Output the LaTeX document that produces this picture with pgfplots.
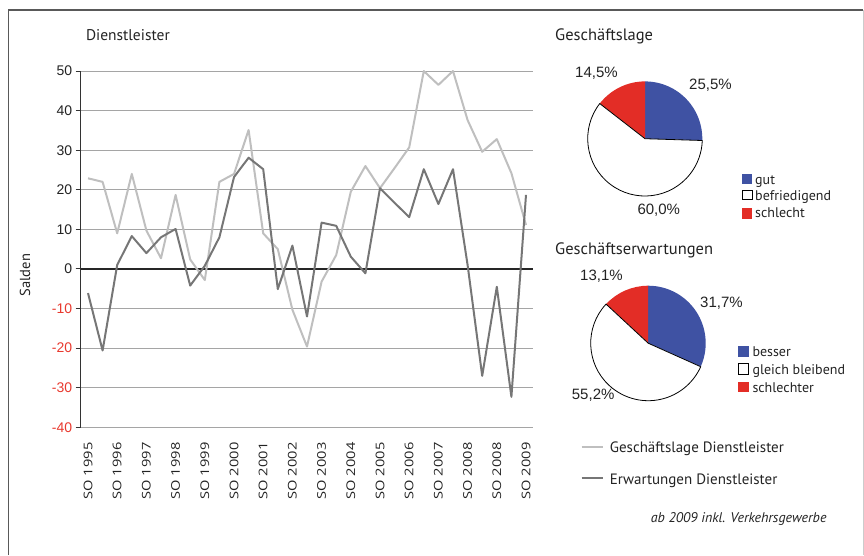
\documentclass[border=0pt]{standalone}
\usepackage{graphicx}
\usepackage{pgfplots}
\pgfplotsset{compat=1.18}
\usepackage{fontspec}
\setmainfont{PT Sans}
\newfontfamily\numfont{Liberation Sans}
\newfontfamily\xfont{Open Sans}
\definecolor{lightline}{RGB}{191,191,191}
\definecolor{darkline}{RGB}{118,118,118}
\definecolor{gridgray}{RGB}{165,165,165}
\definecolor{negred}{RGB}{232,57,46}
\definecolor{pieblue}{RGB}{63,82,163}
\definecolor{piered}{RGB}{227,45,38}
\definecolor{textgray}{RGB}{35,35,35}
\newcommand\xl[1]{\scalebox{1.22}[1]{#1}}
\newcommand\nr[1]{\textcolor{negred}{#1}}
% pie data (percent)
\def\gut{25.5}\def\befr{60.0}\def\schl{14.5}
\def\bes{31.7}\def\gleich{55.2}\def\schlter{13.1}
\begin{document}
\begin{tikzpicture}[every node/.style={text=textgray}]
\path[use as bounding box] (0pt,0pt) rectangle (864pt,-555pt);
\draw[black!65, line width=1.2pt] (8.3pt,-555pt) -- (8.3pt,-10pt) -- (863pt,-10pt);
\draw[black!20, line width=1pt] (863pt,-10pt) -- (863pt,-555pt);
% main line chart
\begin{axis}[
  at={(80.7pt,-427.3pt)}, anchor=south west,
  scale only axis, width=452.6pt, height=356.3pt,
  xmin=-0.5, xmax=30.5, ymin=-40, ymax=50,
  axis lines*=left, axis line style={-},
  x axis line style={draw=none},
  y axis line style={black!80, line width=1pt},
  xtick={0,2,...,30},
  xticklabels={\xl{SO 1995},\xl{SO 1996},\xl{SO 1997},\xl{SO 1998},\xl{SO 1999},\xl{SO 2000},\xl{SO 2001},\xl{SO 2002},\xl{SO 2003},\xl{SO 2004},\xl{SO 2005},\xl{SO 2006},\xl{SO 2007},\xl{SO 2008},\xl{SO 2008},\xl{SO 2009}},
  xtick style={draw=none},
  xticklabel style={font=\xfont\fontsize{12}{14}\selectfont, rotate=90, anchor=east, inner ysep=0pt, inner xsep=0pt},
  xticklabel shift=10pt,
  ytick={-40,-30,...,50},
  yticklabels={\nr{-40},\nr{-30},\nr{-20},\nr{-10},0,10,20,30,40,50},
  yticklabel style={font=\numfont\fontsize{14}{16}\selectfont},
  ytick style={black!80, line width=1pt},
  tick align=outside, major tick length=5pt,
  ymajorgrids, grid style={gridgray, line width=1pt},
  extra y ticks={0}, extra y tick labels={},
  extra y tick style={grid style={black!85, line width=1.2pt}},
  ylabel={Salden},
  ylabel style={font=\fontsize{14.5}{16}\selectfont, at={(axis description cs:-0.123,0.427)}, anchor=center},
  clip=false,
]
\addplot[lightline, line width=2pt, line join=round] coordinates {
(0,22.9) (1,22.0) (2,9.0) (3,24.0) (4,9.7) (5,2.7) (6,18.7) (7,2.4) (8,-2.8) (9,22.0)
(10,24.0) (11,35.1) (12,9.0) (13,5.0) (14,-10.3) (15,-19.6) (16,-3.2) (17,3.5) (18,19.5) (19,26.0)
(20,20.4) (21,25.5) (22,30.7) (23,50.0) (24,46.5) (25,50.0) (26,37.6) (27,29.6) (28,32.8) (29,24.2) (30,11.1)};
\addplot[darkline, line width=2pt, line join=round] coordinates {
(0,-6.1) (1,-20.6) (2,1.0) (3,8.3) (4,4.0) (5,8.0) (6,10.1) (7,-4.2) (8,0.8) (9,8.0)
(10,23.2) (11,28.1) (12,25.2) (13,-5.1) (14,5.9) (15,-12.0) (16,11.7) (17,10.9) (18,3.1) (19,-1.1)
(20,20.4) (21,16.7) (22,13.1) (23,25.2) (24,16.4) (25,25.2) (26,1.0) (27,-27.0) (28,-4.5) (29,-32.3) (30,18.7)};
\end{axis}
\node[anchor=base west, font=\fontsize{15.5}{18}\selectfont] at (82.5pt,-40pt) {Dienstleister};
% pie 1
\begin{axis}[at={(645pt,-138.7pt)}, anchor=center, scale only axis, width=114.6pt, height=114.6pt,
  xmin=-1, xmax=1, ymin=-1, ymax=1, hide axis, clip=false]
\fill[pieblue] (axis cs:0,0) -- ++(90:57.3pt) arc[start angle=90, end angle={90-3.6*\gut}, radius=57.3pt] -- cycle;
\fill[piered] (axis cs:0,0) -- ++(90:57.3pt) arc[start angle=90, end angle={90+3.6*\schl}, radius=57.3pt] -- cycle;
\draw[black, line width=0.8pt, fill=white] (axis cs:0,0) -- ++({90+3.6*\schl}:57.3pt) arc[start angle={90+3.6*\schl}, end angle={90+3.6*\schl+3.6*\befr}, radius=57.3pt] -- cycle;
\end{axis}
% pie 2
\begin{axis}[at={(648.2pt,-343.2pt)}, anchor=center, scale only axis, width=115pt, height=115pt,
  xmin=-1, xmax=1, ymin=-1, ymax=1, hide axis, clip=false]
\fill[pieblue] (axis cs:0,0) -- ++(90:57.5pt) arc[start angle=90, end angle={90-3.6*\bes}, radius=57.5pt] -- cycle;
\fill[piered] (axis cs:0,0) -- ++(90:57.5pt) arc[start angle=90, end angle={90+3.6*\schlter}, radius=57.5pt] -- cycle;
\draw[black, line width=0.8pt, fill=white] (axis cs:0,0) -- ++({90+3.6*\schlter}:57.5pt) arc[start angle={90+3.6*\schlter}, end angle={90+3.6*\schlter+3.6*\gleich}, radius=57.5pt] -- cycle;
\end{axis}
% titles
\node[anchor=base west, font=\fontsize{16.5}{19}\selectfont] at (551.7pt,-40.7pt) {Geschäftslage};
\node[anchor=base west, font=\fontsize{16.5}{19}\selectfont] at (551.7pt,-254pt) {Geschäftserwartungen};
% percent labels
\begin{scope}[every node/.style={anchor=base west, inner sep=0pt, font=\numfont\fontsize{15}{17}\selectfont, text=textgray}]
\node at (575pt,-77.3pt) {14,5\%};
\node at (689pt,-89pt) {25,5\%};
\node at (637.3pt,-214pt) {60,0\%};
\node at (580pt,-280pt) {13,1\%};
\node at (700pt,-307.3pt) {31,7\%};
\node at (571.7pt,-399.3pt) {55,2\%};
\end{scope}
% pie legends
\fill[pieblue] (741.7pt,-174pt) rectangle (752.3pt,-184pt);
\draw[black, line width=0.8pt, fill=white] (742.1pt,-190.4pt) rectangle (751.9pt,-199.6pt);
\fill[piered] (741.7pt,-208.3pt) rectangle (752.3pt,-219pt);
\fill[pieblue] (738.3pt,-346pt) rectangle (749pt,-356.7pt);
\draw[black, line width=0.8pt, fill=white] (738.7pt,-363.7pt) rectangle (748.6pt,-373.9pt);
\fill[piered] (738.3pt,-381.7pt) rectangle (749pt,-392.3pt);
\begin{scope}[every node/.style={anchor=base west, inner sep=0pt, font=\fontsize{14}{16}\selectfont, text=textgray}]
\node at (755pt,-184pt) {gut};
\node at (755pt,-200pt) {befriedigend};
\node at (755pt,-217.7pt) {schlecht};
\node at (752.3pt,-356.7pt) {besser};
\node at (752.3pt,-374.3pt) {gleich bleibend};
\node at (752.3pt,-392.3pt) {schlechter};
\end{scope}
% line legend
\draw[lightline, line width=2pt] (581.7pt,-446.7pt) -- (603.3pt,-446.7pt);
\draw[darkline, line width=2pt] (581.7pt,-478.3pt) -- (603.3pt,-478.3pt);
\begin{scope}[every node/.style={anchor=base west, inner sep=0pt, font=\fontsize{15}{17}\selectfont, text=textgray}]
\node at (609.7pt,-452.3pt) {Geschäftslage Dienstleister};
\node at (609.7pt,-484pt) {Erwartungen Dienstleister};
\end{scope}
\node[anchor=base east, inner sep=0pt, font=\itshape\fontsize{14}{16}\selectfont] at (826.7pt,-522.3pt) {ab 2009 inkl. Verkehrsgewerbe};
\end{tikzpicture}
\end{document}
